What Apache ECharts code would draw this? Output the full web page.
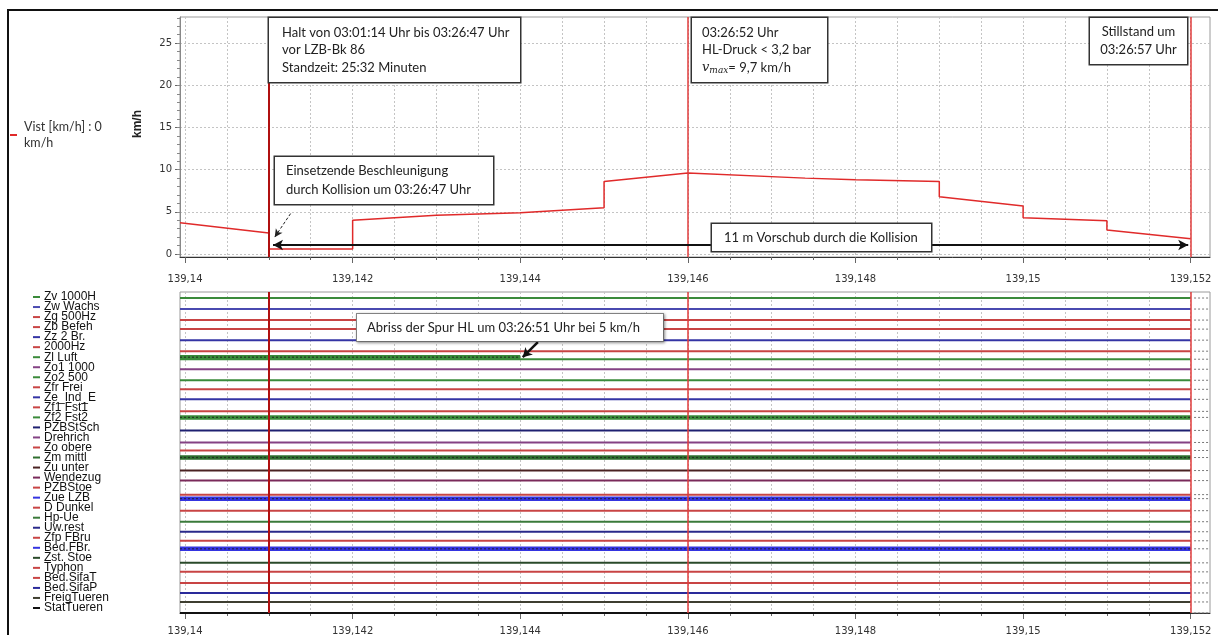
<!DOCTYPE html>
<html>
<head>
<meta charset="utf-8">
<title>Vist / Spuren</title>
<script src="https://cdn.jsdelivr.net/npm/echarts@6/dist/echarts.min.js"></script>
<style>
  html, body { margin: 0; padding: 0; background: #fff; }
  #chart { width: 1218px; height: 635px; }
</style>
</head>
<body>
<div id="chart"></div>
<script>
  // Geschwindigkeit Vist (km/h) über Streckenposition (km)
  const speedPos = [139.13994, 139.141, 139.141, 139.142, 139.142, 139.143, 139.144, 139.145, 139.145,
    139.146, 139.1474, 139.148, 139.148, 139.149, 139.149, 139.15, 139.15, 139.151, 139.151, 139.152];
  const speedVal = [3.7, 2.5, 0.6, 0.6, 4.0, 4.6, 4.9, 5.5, 8.6,
    9.6, 9.0, 8.8, 8.6, 8.6, 6.8, 5.7, 4.3, 3.95, 2.85, 1.8];
  const speedName = 'Vist [km/h] : 0\nkm/h';

  // Achsen
  const xMin = 139.13994;
  const xMax = 139.15223;
  const xMajor = [139.14, 139.142, 139.144, 139.146, 139.148, 139.15, 139.152];
  const xMinor = [139.14, 139.1405, 139.141, 139.1415, 139.142, 139.1425, 139.143, 139.1435,
    139.144, 139.1445, 139.145, 139.1455, 139.146, 139.1465, 139.147, 139.1475, 139.148,
    139.1485, 139.149, 139.1495, 139.15, 139.1505, 139.151, 139.1515, 139.152];
  const yMajor = [0, 5, 10, 15, 20, 25];
  const yMinor = [0, 1, 2, 3, 4, 5, 6, 7, 8, 9, 10, 11, 12, 13, 14, 15, 16, 17, 18, 19, 20,
    21, 22, 23, 24, 25, 26, 27, 28];

  // Markierungen (Halt-Ende, HL-Druck, Stillstand)
  const markerPos = [139.141, 139.146, 139.152];

  // Spuren unten
  const channelNames = ['Zv 1000H', 'Zw Wachs', 'Zg 500Hz', 'Zb Befeh', 'Zz 2 Br.', '2000Hz',
    'Zl Luft', 'Zo1 1000', 'Zo2 500', 'Zfr Frei', 'Ze_Ind_E', 'Zf1 Fst1', 'Zf2 Fst2', 'PZBStSch',
    'Drehrich', 'Zo obere', 'Zm mittl', 'Zu unter', 'Wendezug', 'PZBStoe', 'Zue LZB', 'D Dunkel',
    'Hp-Ue', 'Uw.rest', 'Zfp FBru', 'Bed.FBr.', 'Zst. Stoe', 'Typhon', 'Bed.SifaT', 'Bed.SifaP',
    'FreigTueren', 'StatTueren'];
  const channelLevel = [0.6, 1.7, 2.8, 3.7, 4.8, 5.9, 6.7, 7.7, 8.8, 9.7, 10.7, 11.9, 12.5, 13.8,
    15.0, 15.8, 16.5, 17.8, 18.8, 20.2, 20.6, 21.8, 22.9, 23.9, 24.8, 25.6, 27.0, 27.9, 29.0,
    30.0, 30.9, 32.0];
  const traceEnd = 139.152;
  // Spuren mit schnell wechselndem Pegel (breites Band)
  const bandChannel = [6, 12, 16, 20, 25];
  const bandLevel = [6.5, 12.5, 16.5, 20.6, 25.6];
  const bandEnd = [139.144, 139.152, 139.152, 139.152, 139.152];

  const channelColors = ['#3a8a3a', '#4a4ab0', '#c84444', '#c84444', '#3434a4', '#c84444',
    '#3a8a3a', '#844284', '#3a8a3a', '#c84444', '#3434a4', '#c84444', '#3a8a3a', '#1e2070',
    '#844284', '#c84444', '#2e6e2e', '#4a2222', '#7a2a5a', '#c84444', '#3434e0', '#c84444',
    '#3a7a3a', '#2a2a8a', '#c84444', '#3434e0', '#2a4a2a', '#c84444', '#c84444', '#2a2a9a',
    '#3e3e30', '#111111'];

  const annoFont = 'Lato, "Liberation Sans", sans-serif';
  const fmtX = (v) => String(v).replace('.', ',');

  const chart = echarts.init(document.getElementById('chart'));

  const xAxisFor = (grid, labelMargin) => ([
    {
      gridIndex: grid, type: 'value', min: xMin, max: xMax, position: 'bottom',
      axisLine: { show: true, onZero: false, lineStyle: { color: '#333', width: 1 } },
      axisTick: { show: true, customValues: xMinor, length: 3, lineStyle: { color: '#666' } },
      axisLabel: { customValues: xMajor, formatter: fmtX, margin: labelMargin, fontSize: 10,
        color: '#333', fontFamily: '"DejaVu Sans", sans-serif' },
      splitLine: { show: true, lineStyle: { type: [2, 2], color: '#c4c4c4' } }
    },
    {
      gridIndex: grid, type: 'value', min: xMin, max: xMax, position: 'bottom',
      axisLine: { show: false, onZero: false },
      axisTick: { show: true, customValues: xMajor, length: 6, lineStyle: { color: '#666' } },
      axisLabel: { show: false },
      splitLine: { show: false }
    }
  ]);

  const markerLines = markerPos.map((p, i) => ({
    xAxis: p,
    lineStyle: i === 0
      ? { color: '#b01010', width: 2, type: 'solid' }
      : { color: '#e03c3c', width: 1.5, type: 'solid' }
  }));

  const series = [];

  series.push({
    name: speedName, type: 'line', xAxisIndex: 0, yAxisIndex: 0,
    data: speedPos.map((p, i) => [p, speedVal[i]]),
    symbol: 'none', silent: true,
    lineStyle: { color: '#e02a2a', width: 1.5 }, itemStyle: { color: '#e02a2a' },
    markLine: {
      silent: true, precision: 6, symbol: ['none', 'none'], label: { show: false },
      data: markerLines.concat([
        [
          { coord: [139.14105, 1.07], symbol: 'arrow', symbolSize: [8, 10],
            lineStyle: { color: '#111', width: 2, type: 'solid' } },
          { coord: [139.15197, 1.07], symbol: 'arrow', symbolSize: [8, 10] }
        ],
        [
          { coord: [139.14126, 4.8], symbol: 'none',
            lineStyle: { color: '#222', width: 1, type: [3, 2] } },
          { coord: [139.14107, 2.0], symbol: 'arrow', symbolSize: [6, 8] }
        ]
      ])
    }
  });

  channelNames.forEach((name, i) => {
    series.push({
      name: name, type: 'line', xAxisIndex: 2, yAxisIndex: 2, silent: true,
      data: [[xMin, channelLevel[i]], [traceEnd, channelLevel[i]]],
      symbol: 'none', lineStyle: { color: channelColors[i], width: 2 }
    });
  });

  bandChannel.forEach((ch, k) => {
    const d = [[xMin, bandLevel[k]], [bandEnd[k], bandLevel[k]]];
    series.push({
      type: 'line', xAxisIndex: 2, yAxisIndex: 2, silent: true, data: d, symbol: 'none',
      lineStyle: { color: channelColors[ch], width: 4.5 }
    });
    series.push({
      type: 'line', xAxisIndex: 2, yAxisIndex: 2, silent: true, data: d, symbol: 'none',
      lineStyle: { color: '#1a1a1a', width: 1.2, type: [2, 2], opacity: 0.7 }
    });
  });

  // kurze gestrichelte Fortsetzung rechts der letzten Markierung
  const tail = [];
  channelLevel.forEach((lv) => {
    tail.push([139.15204, lv], [139.15221, lv], [139.15222, '-']);
  });
  series.push({
    type: 'line', xAxisIndex: 2, yAxisIndex: 2, silent: true, data: tail, symbol: 'none',
    lineStyle: { color: '#777', width: 1, type: [2, 2] },
    markLine: {
      silent: true, precision: 6, symbol: ['none', 'none'], label: { show: false },
      data: markerLines.concat([
        [
          { coord: [139.14421, 5.0], symbol: 'none',
            lineStyle: { color: '#111', width: 2.5, type: 'solid' } },
          { coord: [139.14403, 6.5], symbol: 'arrow', symbolSize: [8, 9] }
        ]
      ])
    }
  });

  const rich = { t: { fontSize: 12, color: '#111', padding: [0, 0, 0, 4],
    fontFamily: '"Liberation Sans", Arial, sans-serif' } };
  channelColors.forEach((c, i) => {
    rich['d' + i] = { width: 7, height: 2, backgroundColor: c };
  });

  const box = (x, y, w, h, text, extra) => Object.assign({
    type: 'text', x: x, y: y, z: 100,
    style: Object.assign({
      text: text, fill: '#222', font: '13px ' + annoFont,
      width: w, height: h, lineHeight: 17.5,
      backgroundColor: '#fff', borderColor: '#333', borderWidth: 1.5,
      align: 'left', verticalAlign: 'top'
    }, extra || {})
  });

  const option = {
    backgroundColor: '#fff',
    animation: false,
    grid: [
      { left: 180, right: 8, top: 17, height: 240, show: true, borderColor: '#9a9a9a',
        borderWidth: 1, backgroundColor: 'transparent', outerBoundsMode: 'none' },
      { left: 180, right: 8, top: 292, height: 321, show: true, borderColor: '#9a9a9a',
        borderWidth: 1, backgroundColor: 'transparent', outerBoundsMode: 'none' }
    ],
    legend: {
      data: [speedName], left: 5, top: 109, orient: 'vertical', icon: 'rect',
      itemWidth: 7, itemHeight: 2, selectedMode: false,
      textStyle: { fontSize: 12.5, color: '#333', lineHeight: 16, padding: [10, 0, 0, 2],
        fontFamily: annoFont }
    },
    xAxis: xAxisFor(0, 17).concat(xAxisFor(1, 13)),
    yAxis: [
      {
        gridIndex: 0, type: 'value', min: -0.35, max: 28.1, position: 'left',
        name: 'km/h', nameLocation: 'middle', nameGap: 36, nameRotate: 90,
        nameTextStyle: { fontWeight: 'bold', fontSize: 12, color: '#222', padding: [0, 0, 0, 26],
          fontFamily: '"Liberation Sans", sans-serif' },
        axisLine: { show: true, lineStyle: { color: '#888' } },
        axisTick: { show: true, customValues: yMajor, length: 5, lineStyle: { color: '#666' } },
        axisLabel: { customValues: yMajor, fontSize: 10, color: '#333', margin: 8,
          fontFamily: '"DejaVu Sans", sans-serif' },
        splitLine: { show: true, lineStyle: { type: [2, 2], color: '#c4c4c4' } }
      },
      {
        gridIndex: 0, type: 'value', min: -0.35, max: 28.1, position: 'left',
        axisLine: { show: false },
        axisTick: { show: true, customValues: yMinor, length: 3, lineStyle: { color: '#888' } },
        axisLabel: { show: false }, splitLine: { show: false }
      },
      {
        gridIndex: 1, type: 'value', min: 0, max: 32, inverse: true, show: false
      },
      {
        gridIndex: 1, type: 'category', data: channelNames, inverse: true, position: 'left',
        axisLine: { show: false }, axisTick: { show: false }, splitLine: { show: false },
        axisLabel: {
          interval: 0, margin: 147, align: 'left',
          formatter: (val, idx) => '{d' + idx + '|}{t|' + val + '}',
          rich: rich
        }
      }
    ],
    series: series,
    graphic: [
      { type: 'rect', z: 0, silent: true, shape: { x: 8, y: 10, width: 1230, height: 640 },
        style: { fill: 'none', stroke: '#111', lineWidth: 2 } },
      box(269, 18, 226, 52,
        'Halt von 03:01:14 Uhr bis 03:26:47 Uhr\nvor LZB-Bk 86\nStandzeit: 25:32 Minuten',
        { padding: [6, 12, 6, 13] }),
      box(275, 157, 196, 37,
        'Einsetzende Beschleunigung\ndurch Kollision um 03:26:47 Uhr',
        { padding: [5, 11, 5, 11], lineHeight: 18.5 }),
      box(692, 18, 115, 52,
        '03:26:52 Uhr\nHL-Druck < 3,2 bar\n{v|v}{s|max}= 9,7 km/h',
        { padding: [6, 10, 6, 10],
          rich: {
            v: { fontFamily: '"DejaVu Serif", serif', fontStyle: 'italic', fontSize: 13, fill: '#222' },
            s: { fontFamily: '"DejaVu Serif", serif', fontStyle: 'italic', fontSize: 9, fill: '#222',
              padding: [5, 0, 0, 0] }
          } }),
      box(1138.5, 18, 81, 36, 'Stillstand um\n03:26:57 Uhr',
        { padding: [5, 8, 5, 8], lineHeight: 18, align: 'center' }),
      box(712, 224, 195, 19, '11 m Vorschub durch die Kollision',
        { padding: [4, 12, 4, 12], lineHeight: 19 }),
      box(357, 314, 286, 19, 'Abriss der Spur HL um 03:26:51 Uhr bei 5 km/h',
        { padding: [4, 10, 4, 10], lineHeight: 19, borderColor: '#8a8a8a', borderWidth: 1,
          shadowBlur: 3, shadowColor: 'rgba(0,0,0,0.35)', shadowOffsetX: 1, shadowOffsetY: 1 })
    ]
  };

  chart.setOption(option);
</script>
</body>
</html>
